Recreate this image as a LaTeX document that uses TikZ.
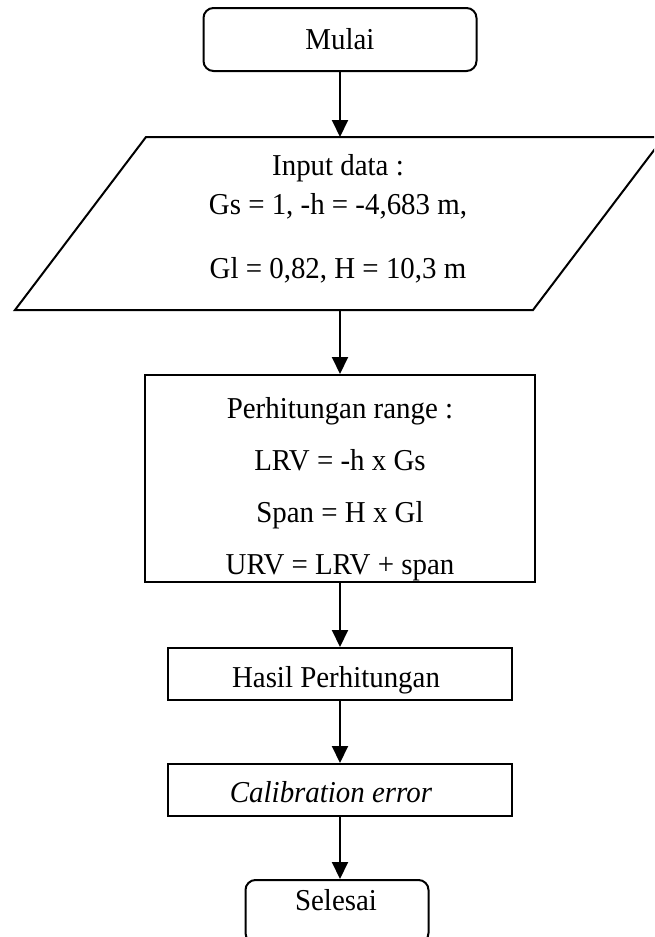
\documentclass[tikz,border=0pt]{standalone}
\usepackage{fontspec}
\usepackage{graphicx}
\setmainfont{Liberation Serif}
\usetikzlibrary{arrows.meta}

% slightly tall lettering
\newcommand{\tall}[1]{\scalebox{1}[1.05]{#1}}

\begin{document}
\begin{tikzpicture}[x=0.5pt,y=-0.5pt,
  line width=1pt,
  shapebox/.style={draw,rectangle,inner sep=0pt,line width=1pt},
  terminal/.style={shapebox,rounded corners=5pt},
  txt/.style={inner sep=0pt,anchor=base,font=\fontsize{14.45}{17}\selectfont},
  flow/.style={-{Triangle[length=8.5pt,width=8pt]},line width=1pt}]
\useasboundingbox (0,0) rectangle (654,937);
\clip (0,0) rectangle (654,937);

% start terminal
\node[terminal,minimum width=136.5pt,minimum height=31.5pt] (start) at (340,39.5) {};
\node[txt] (startT) at (340,49) {\tall{Mulai}};

% input parallelogram
\coordinate (inTL) at (146,137);
\coordinate (inTR) at (664,137);
\coordinate (inBR) at (533,310);
\coordinate (inBL) at (15,310);
\coordinate (intop) at (340,137);
\coordinate (inbot) at (340,310);
\draw (inTL) -- (inTR) -- (inBR) -- (inBL) -- cycle;
\node[txt] (inT1) at (338,175) {\tall{Input data :}};
\node[txt] (inT2) at (338,214) {\tall{Gs = 1, -h = -4,683 m,}};
\node[txt] (inT3) at (338,278) {\tall{Gl = 0,82, H = 10,3 m}};

% range calculation
\node[shapebox,minimum width=195pt,minimum height=103.5pt] (calc) at (340,478.5) {};
\node[txt] (calcT1) at (340,418) {\tall{Perhitungan range :}};
\node[txt] (calcT2) at (340,470) {\tall{LRV = -h x Gs}};
\node[txt] (calcT3) at (340,522) {\tall{Span = H x Gl}};
\node[txt] (calcT4) at (340,574) {\tall{URV = LRV + span}};

% result
\node[shapebox,minimum width=172pt,minimum height=26pt] (res) at (340,674) {};
\node[txt] (resT) at (336,687) {\tall{Hasil Perhitungan}};

% calibration error
\node[shapebox,minimum width=172pt,minimum height=26pt] (cal) at (340,790) {};
\node[txt] (calT) at (331,802) {\tall{\itshape Calibration error}};

% end terminal
\node[terminal,minimum width=91.5pt,minimum height=31.5pt] (sel) at (337,911.5) {};
\node[txt] (selT) at (336,910) {\tall{Selesai}};

% connectors
\draw[flow] (start.south) -- (intop);
\draw[flow] (inbot) -- (calc.north);
\draw[flow] (calc.south) -- (res.north);
\draw[flow] (res.south) -- (cal.north);
\draw[flow] (cal.south) -- (cal.south |- sel.north);
\end{tikzpicture}
\end{document}
